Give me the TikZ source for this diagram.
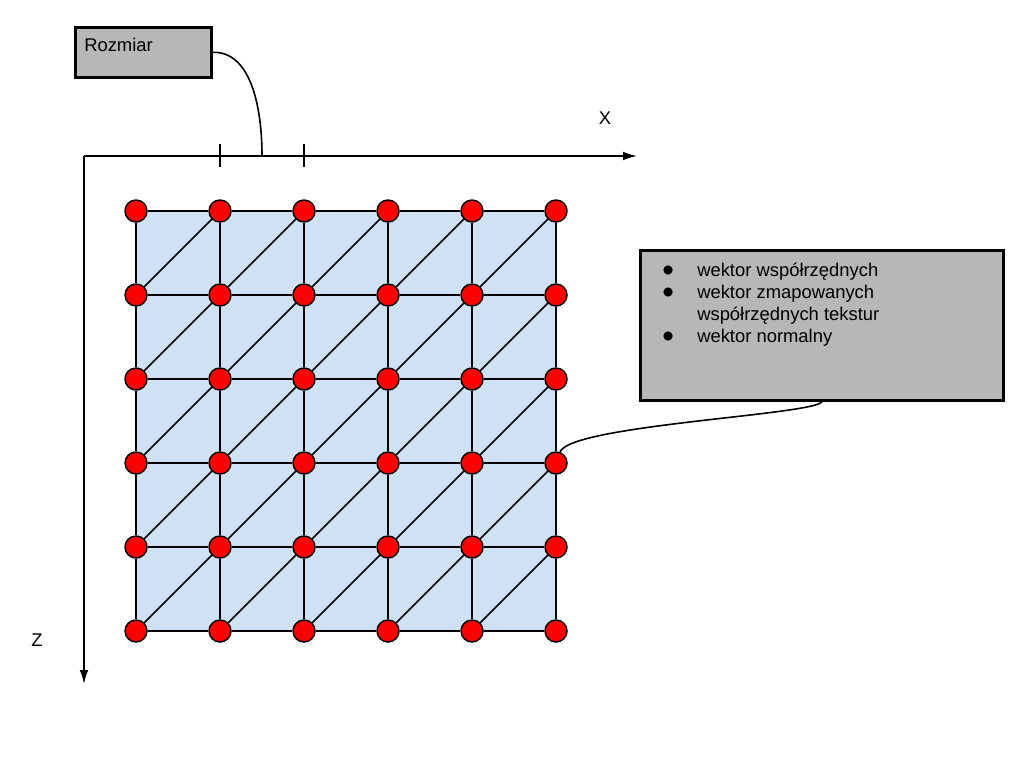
\documentclass[tikz,border=0pt]{standalone}
\usepackage{fontspec}
\setmainfont{Liberation Sans}
\usepackage{xcolor}
\usepackage{tikz}
\usetikzlibrary{arrows.meta}

\definecolor{meshblue}{RGB}{207,226,243}
\definecolor{boxgray}{RGB}{183,183,183}

\newcommand{\bigdot}{\makebox[26.25pt][l]{\smash{\raisebox{-0.3em}{\scalebox{1.8}{\textbullet}}}}}

\tikzset{
  vertex/.style={circle, draw=black, line width=1.1pt, fill=red, minimum size=16.5pt, inner sep=0pt},
  graybox/.style={draw=black, line width=2pt, fill=boxgray, inner sep=0pt, anchor=north west},
  boxtext/.style={inner sep=0pt, font=\fontsize{13.8}{16.5}\selectfont},
  axis/.style={line width=1.1pt, -{Latex[length=10.5pt,width=6.5pt]}},
  edge/.style={line width=1.2pt},
}

\begin{document}
\begin{tikzpicture}[x=0.75pt,y=0.75pt,yscale=-1,xscale=1]
\useasboundingbox (0,0) rectangle (1024,768);

%Axes
\coordinate (origin) at (84,156);
\coordinate (xend) at (637,156);
\coordinate (zend) at (84,684);
\draw [axis] (origin) -- (xend);
\draw [axis] (origin) -- (zend);
\node [boxtext] (xlabel) at (605,118) {X};
\node [boxtext] (zlabel) at (37,640) {Z};

%Ticks
\coordinate (tickA) at (220,156);
\coordinate (tickB) at (304,156);
\coordinate (sizemark) at (262,156);
\draw [edge] ([shift={(0,-12)}]tickA) -- ([shift={(0,11)}]tickA);
\draw [edge] ([shift={(0,-12)}]tickB) -- ([shift={(0,11)}]tickB);

%Mesh background
\fill [meshblue] (136,211) rectangle (556,631);

%Vertices
\node [vertex] (v00) at (136,211) {};
\node [vertex] (v10) at (220,211) {};
\node [vertex] (v20) at (304,211) {};
\node [vertex] (v30) at (388,211) {};
\node [vertex] (v40) at (472,211) {};
\node [vertex] (v50) at (556,211) {};
\node [vertex] (v01) at (136,295) {};
\node [vertex] (v11) at (220,295) {};
\node [vertex] (v21) at (304,295) {};
\node [vertex] (v31) at (388,295) {};
\node [vertex] (v41) at (472,295) {};
\node [vertex] (v51) at (556,295) {};
\node [vertex] (v02) at (136,379) {};
\node [vertex] (v12) at (220,379) {};
\node [vertex] (v22) at (304,379) {};
\node [vertex] (v32) at (388,379) {};
\node [vertex] (v42) at (472,379) {};
\node [vertex] (v52) at (556,379) {};
\node [vertex] (v03) at (136,463) {};
\node [vertex] (v13) at (220,463) {};
\node [vertex] (v23) at (304,463) {};
\node [vertex] (v33) at (388,463) {};
\node [vertex] (v43) at (472,463) {};
\node [vertex] (v53) at (556,463) {};
\node [vertex] (v04) at (136,547) {};
\node [vertex] (v14) at (220,547) {};
\node [vertex] (v24) at (304,547) {};
\node [vertex] (v34) at (388,547) {};
\node [vertex] (v44) at (472,547) {};
\node [vertex] (v54) at (556,547) {};
\node [vertex] (v05) at (136,631) {};
\node [vertex] (v15) at (220,631) {};
\node [vertex] (v25) at (304,631) {};
\node [vertex] (v35) at (388,631) {};
\node [vertex] (v45) at (472,631) {};
\node [vertex] (v55) at (556,631) {};

%Rows
\draw [edge] (v00) -- (v10) -- (v20) -- (v30) -- (v40) -- (v50);
\draw [edge] (v01) -- (v11) -- (v21) -- (v31) -- (v41) -- (v51);
\draw [edge] (v02) -- (v12) -- (v22) -- (v32) -- (v42) -- (v52);
\draw [edge] (v03) -- (v13) -- (v23) -- (v33) -- (v43) -- (v53);
\draw [edge] (v04) -- (v14) -- (v24) -- (v34) -- (v44) -- (v54);
\draw [edge] (v05) -- (v15) -- (v25) -- (v35) -- (v45) -- (v55);
%Columns
\draw [edge] (v00) -- (v01) -- (v02) -- (v03) -- (v04) -- (v05);
\draw [edge] (v10) -- (v11) -- (v12) -- (v13) -- (v14) -- (v15);
\draw [edge] (v20) -- (v21) -- (v22) -- (v23) -- (v24) -- (v25);
\draw [edge] (v30) -- (v31) -- (v32) -- (v33) -- (v34) -- (v35);
\draw [edge] (v40) -- (v41) -- (v42) -- (v43) -- (v44) -- (v45);
\draw [edge] (v50) -- (v51) -- (v52) -- (v53) -- (v54) -- (v55);
%Diagonals
\draw [edge] (v01) -- (v10);
\draw [edge] (v02) -- (v11) -- (v20);
\draw [edge] (v03) -- (v12) -- (v21) -- (v30);
\draw [edge] (v04) -- (v13) -- (v22) -- (v31) -- (v40);
\draw [edge] (v05) -- (v14) -- (v23) -- (v32) -- (v41) -- (v50);
\draw [edge] (v15) -- (v24) -- (v33) -- (v42) -- (v51);
\draw [edge] (v25) -- (v34) -- (v43) -- (v52);
\draw [edge] (v35) -- (v44) -- (v53);
\draw [edge] (v45) -- (v54);

%Size box
\node [graybox, minimum width=102pt, minimum height=37.5pt] (size) at (74,26) {};
\node [boxtext, anchor=base west] (sizetext) at ([shift={(10,25)}]size.north west) {Rozmiar};
\draw [edge] (size.east) .. controls (250,51) and (262,105) .. (sizemark);

%Info box
\node [graybox, minimum width=272.25pt, minimum height=112.5pt] (info) at (639,249) {};
\node [boxtext, anchor=base west, align=left] (infotext) at ([shift={(23,93)}]info.north west) {%
\bigdot wektor współrzędnych\\
\bigdot wektor zmapowanych\\
\hspace*{26.25pt}współrzędnych tekstur\\
\bigdot wektor normalny};
\draw [edge] (info.south) .. controls (815,415) and (570,425) .. (v53);

\end{tikzpicture}
\end{document}
